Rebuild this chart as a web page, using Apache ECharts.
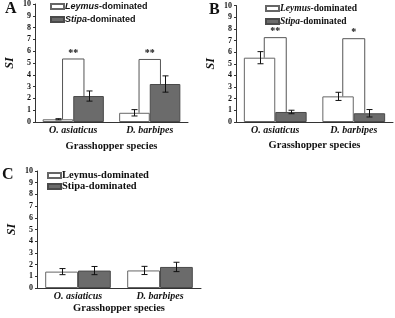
<!DOCTYPE html>
<html>
<head>
<meta charset="utf-8">
<script src="https://cdn.jsdelivr.net/npm/echarts@6/dist/echarts.min.js"></script>
<style>
  html, body { margin: 0; padding: 0; background: #fff; }
  #chart { width: 395px; height: 318px; }
</style>
</head>
<body>
<div id="chart"></div>
<script>
const categories = ['O. asiaticus', 'D. barbipes']

// panel A
const leymusA = [0.23, 0.78]
const leymusErrA = [0.05, 0.27]
const stipaA = [2.2, 3.22]
const stipaErrA = [0.43, 0.69]
const sigTopA = [5.34, 5.3]
const sigTextA = ['**', '**']

// panel B
const leymusB = [5.52, 2.2]
const leymusErrB = [0.52, 0.35]
const stipaB = [0.86, 0.75]
const stipaErrB = [0.15, 0.32]
const sigTopB = [7.24, 7.15]
const sigTextB = ['**', '*']

// panel C
const leymusC = [1.4, 1.5]
const leymusErrC = [0.26, 0.35]
const stipaC = [1.49, 1.8]
const stipaErrC = [0.35, 0.4]

const SERIF = '"Liberation Serif", "DejaVu Serif", serif'
const SANS = '"Liberation Sans", Arial, sans-serif'
const GAP = 0.2 // barCategoryGap

const chart = echarts.init(document.getElementById('chart'))

function errorBars(side) {
  return function (params, api) {
    const cat = api.value(0)
    const band = api.size([1, 0])[0]
    const off = side * band * (1 - GAP) / 4
    const hi = api.coord([cat, api.value(1) + api.value(2)])
    const lo = api.coord([cat, api.value(1) - api.value(2)])
    const x = Math.round(hi[0] + off) + 0.5
    const cap = 3
    const st = { stroke: '#111', lineWidth: 1 }
    return {
      type: 'group',
      children: [
        { type: 'line', shape: { x1: x, y1: hi[1], x2: x, y2: lo[1] }, style: st },
        { type: 'line', shape: { x1: x - cap, y1: hi[1], x2: x + cap, y2: hi[1] }, style: st },
        { type: 'line', shape: { x1: x - cap, y1: lo[1], x2: x + cap, y2: lo[1] }, style: st }
      ]
    }
  }
}

function brackets(texts) {
  return function (params, api) {
    const cat = api.value(0)
    const band = api.size([1, 0])[0]
    const d = band * 0.14
    const top = api.coord([cat, api.value(1)])
    const l = api.coord([cat, api.value(2)])
    const r = api.coord([cat, api.value(3)])
    const cx = top[0]
    return {
      type: 'group',
      children: [
        {
          type: 'polyline',
          shape: { points: [[cx - d, l[1]], [cx - d, top[1]], [cx + d, top[1]], [cx + d, r[1]]] },
          style: { stroke: '#555', lineWidth: 1, fill: null }
        },
        {
          type: 'text',
          style: {
            x: cx, y: top[1] - 1, text: texts[params.dataIndex],
            align: 'center', verticalAlign: 'bottom',
            font: 'bold 10px ' + SERIF, fill: '#111'
          }
        }
      ]
    }
  }
}

function panelSeries(idx, leymus, leymusErr, stipa, stipaErr, sigTop, sigText) {
  const out = [
    {
      name: 'Leymus-dominated', type: 'bar', xAxisIndex: idx, yAxisIndex: idx,
      data: leymus, barGap: 0, barCategoryGap: GAP * 100 + '%',
      itemStyle: { color: '#fff', borderColor: '#666', borderWidth: 1 }
    },
    {
      name: 'Stipa-dominated', type: 'bar', xAxisIndex: idx, yAxisIndex: idx,
      data: stipa, barGap: 0, barCategoryGap: GAP * 100 + '%',
      itemStyle: { color: '#6b6b6b', borderColor: '#4a4a4a', borderWidth: 1 }
    },
    {
      type: 'custom', xAxisIndex: idx, yAxisIndex: idx, z: 5,
      renderItem: errorBars(-1),
      data: leymus.map((v, i) => [i, v, leymusErr[i]])
    },
    {
      type: 'custom', xAxisIndex: idx, yAxisIndex: idx, z: 5,
      renderItem: errorBars(1),
      data: stipa.map((v, i) => [i, v, stipaErr[i]])
    }
  ]
  if (sigTop) {
    out.push({
      type: 'custom', xAxisIndex: idx, yAxisIndex: idx, z: 6,
      renderItem: brackets(sigText),
      data: sigTop.map((t, i) => [i, t, leymus[i], stipa[i]])
    })
  }
  return out
}

function xAxis(idx, gap) {
  return {
    type: 'category', gridIndex: idx, data: categories,
    name: 'Grasshopper species', nameLocation: 'middle', nameGap: gap,
    nameTextStyle: { fontFamily: SERIF, fontWeight: 'bold', fontSize: 10.5, color: '#111' },
    axisLine: { lineStyle: { color: '#333', width: 1 } },
    axisTick: { show: false },
    axisLabel: {
      interval: 0, margin: 3, fontFamily: SERIF, fontWeight: 'bold',
      fontStyle: 'italic', fontSize: 10, color: '#111'
    }
  }
}

function yAxis(idx) {
  return {
    type: 'value', gridIndex: idx, min: 0, max: 10, interval: 1,
    name: 'SI', nameLocation: 'middle', nameGap: 19, nameRotate: 90,
    nameTextStyle: { fontFamily: SERIF, fontWeight: 'bold', fontStyle: 'italic', fontSize: 12, color: '#111' },
    axisLine: { show: true, lineStyle: { color: '#333', width: 1 } },
    axisTick: { show: true, length: 2, lineStyle: { color: '#333' } },
    splitLine: { show: false },
    axisLabel: { margin: 4, fontFamily: SERIF, fontWeight: 'bold', fontSize: 8, color: '#111' }
  }
}

function letter(text, left, top) {
  return { text, left, top, padding: 0, textStyle: { fontFamily: SERIF, fontWeight: 'bold', fontSize: 16, color: '#111' } }
}

function legend(left, top, font, size, italic, gap, lh) {
  return {
    left, top, orient: 'vertical', padding: 0, itemGap: gap,
    icon: 'rect', itemWidth: 13, itemHeight: 5, selectedMode: false,
    data: ['Leymus-dominated', 'Stipa-dominated'],
    formatter: italic ? (n => '{i|' + n.split('-')[0] + '}-' + n.split('-')[1]) : (n => n),
    textStyle: {
      fontFamily: font, fontWeight: 'bold', fontSize: size, lineHeight: lh, color: '#111', padding: [0, 0, 0, -4],
      rich: { i: { fontFamily: font, fontWeight: 'bold', fontStyle: 'italic', fontSize: size, lineHeight: lh, color: '#111' } }
    }
  }
}

chart.setOption({
  animation: false,
  title: [letter('A', 5, 1), letter('B', 209, 2), letter('C', 2, 167)],
  legend: [
    legend(50, 1, SANS, 9, true, 2, 11),
    legend(265, 3, SERIF, 9.5, true, 2, 11),
    legend(47, 170, SERIF, 10.5, false, 0, 10)
  ],
  grid: [
    { left: 35, top: 4, width: 153, height: 118 },
    { left: 236, top: 5.5, width: 157, height: 116.5 },
    { left: 37, top: 171, width: 164, height: 117 }
  ],
  xAxis: [xAxis(0, 19), xAxis(1, 18), xAxis(2, 15)],
  yAxis: [yAxis(0), yAxis(1), yAxis(2)],
  series: [
    ...panelSeries(0, leymusA, leymusErrA, stipaA, stipaErrA, sigTopA, sigTextA),
    ...panelSeries(1, leymusB, leymusErrB, stipaB, stipaErrB, sigTopB, sigTextB),
    ...panelSeries(2, leymusC, leymusErrC, stipaC, stipaErrC)
  ]
})
</script>
</body>
</html>
